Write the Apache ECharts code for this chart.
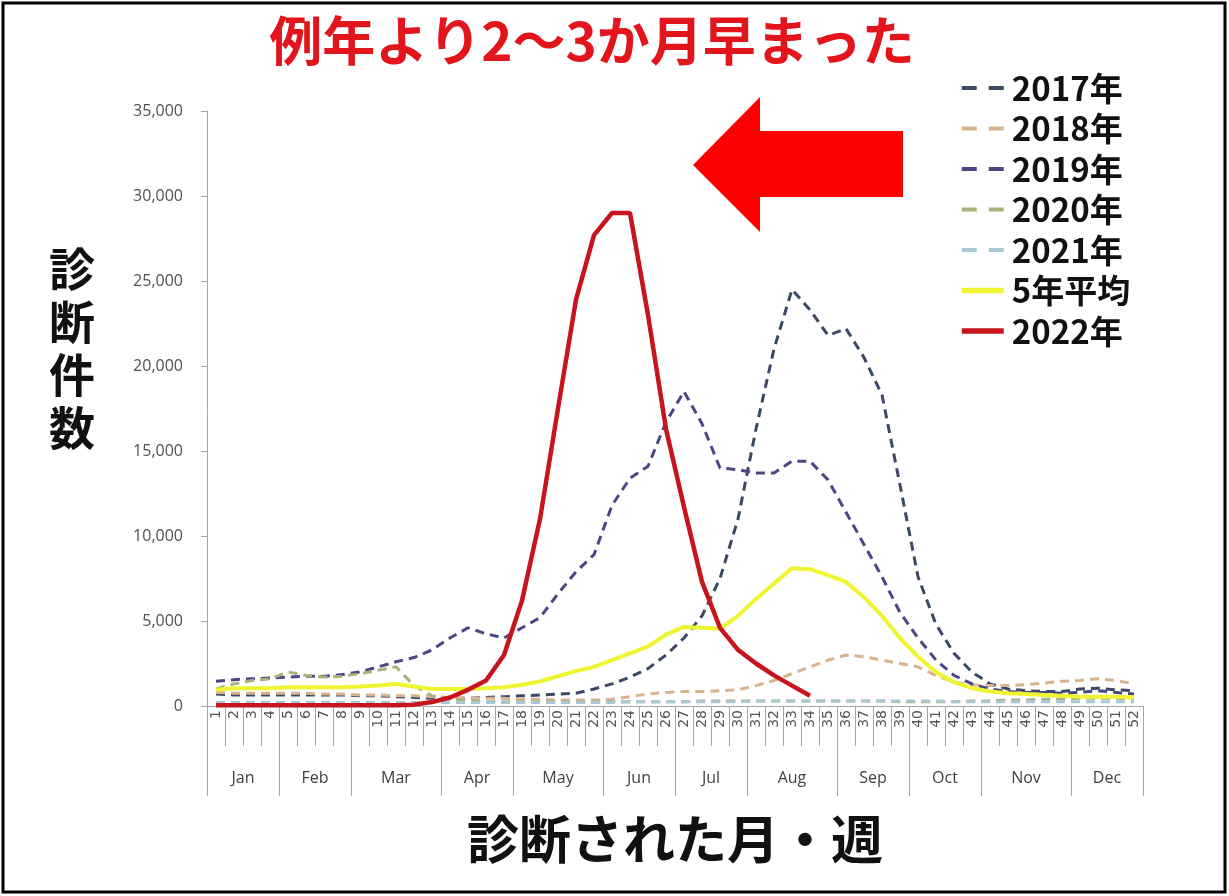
<!DOCTYPE html>
<html lang="ja">
<head>
<meta charset="utf-8">
<title>診断件数の推移</title>
<script src="https://cdn.jsdelivr.net/npm/echarts@6/dist/echarts.min.js"></script>
<style>
  html, body { margin: 0; padding: 0; background: #fff; }
  #chart { width: 1229px; height: 896px; }
</style>
</head>
<body>
<div id="chart"></div>
<script>
// Week numbers along the lower axis
const weeks = ['1','2','3','4','5','6','7','8','9','10','11','12','13','14','15','16','17','18','19','20',
  '21','22','23','24','25','26','27','28','29','30','31','32','33','34','35','36','37','38','39','40',
  '41','42','43','44','45','46','47','48','49','50','51','52'];

// Month groups: names and the week boundaries between them
const months = ['Jan','Feb','Mar','Apr','May','Jun','Jul','Aug','Sep','Oct','Nov','Dec'];
const monthEdges = [0, 4, 8, 13, 17, 22, 26, 30, 35, 39, 43, 48, 52];

// Weekly diagnosis counts
const y2017 = [700,650,650,650,650,650,650,650,600,600,550,500,450,450,450,500,550,600,650,700,
  750,1000,1300,1700,2200,3000,4000,5300,7500,11000,16300,21000,24500,23300,21800,22200,20500,18300,13000,7600,
  4800,3100,2000,1300,1000,900,850,850,1000,1050,950,900];
const y2018 = [800,750,750,750,750,750,700,700,650,650,600,600,550,500,450,450,450,400,400,350,
  350,350,400,550,700,800,850,850,900,950,1200,1500,1900,2300,2700,3000,2900,2700,2500,2300,
  1800,1400,1250,1200,1200,1250,1350,1450,1500,1600,1500,1300];
const y2019 = [1450,1550,1600,1650,1700,1750,1750,1850,2000,2300,2600,2850,3300,4000,4600,4250,4000,4600,5200,6600,
  7900,8900,11800,13400,14100,16700,18500,16600,14000,13900,13700,13700,14400,14400,13300,11400,9500,7600,5500,4000,
  2700,1800,1300,1000,850,800,800,750,800,900,800,700];
const y2020 = [1000,1300,1500,1600,2000,1800,1700,1750,1900,2100,2300,1200,600,400,300,250,250,250,250,250,
  250,250,250,250,250,250,250,300,300,300,300,300,300,300,300,300,300,300,250,250,
  250,250,300,300,350,350,400,400,450,450,450,400];
const y2021 = [200,200,200,200,200,200,200,200,200,200,200,200,200,200,200,200,200,200,200,200,
  200,200,200,250,250,250,250,250,250,250,300,300,300,300,300,300,300,300,300,300,
  300,250,250,250,250,250,250,250,250,250,250,250];
const yAvg = [950,1050,1050,1050,1100,1100,1100,1100,1150,1200,1300,1150,1000,1000,1000,1050,1100,1250,1450,1750,
  2050,2300,2700,3100,3500,4200,4650,4600,4550,5300,6300,7200,8100,8050,7700,7300,6400,5300,4000,2900,
  2000,1400,1050,850,750,700,650,600,550,550,550,500];
const y2022 = [50,50,50,50,50,50,50,50,50,50,50,80,230,500,950,1500,3000,6200,11000,17500,
  23900,27700,29000,29000,23000,16300,11700,7300,4600,3300,2500,1800,1200,600];

const seriesNames = ['2017年','2018年','2019年','2020年','2021年','5年平均','2022年'];
const seriesData = [y2017, y2018, y2019, y2020, y2021, yAvg, y2022];
const seriesColors = ['#3b4966','#d8b48e','#4a4784','#a9b27c','#a9c8d6','#eef530','#c8141c'];
const dashed = [true, true, true, true, true, false, false];

const monthCenters = months.map((m, i) => (monthEdges[i] + monthEdges[i + 1]) / 2);

const axisGray = '#a6a6a6';
const cjk = '"Noto Sans CJK JP", "Noto Sans", sans-serif';

const series = seriesNames.map((name, i) => ({
  name: name,
  type: 'line',
  data: seriesData[i],
  symbol: 'none',
  smooth: false,
  z: i + 2,
  lineStyle: dashed[i]
    ? { color: seriesColors[i], width: 3, type: [9, 6] }
    : { color: seriesColors[i], width: i === 6 ? 4.5 : 4 },
  itemStyle: { color: seriesColors[i] }
}));

// Legend keys show only the line stroke, no point marker
const legendData = seriesNames.map((name, i) => ({
  name: name,
  itemStyle: { opacity: 0 },
  lineStyle: dashed[i]
    ? { type: [15, 12], width: 4, color: seriesColors[i] }
    : { type: 'solid', width: 5.5, color: seriesColors[i] }
}));

const option = {
  animation: false,
  backgroundColor: '#ffffff',
  grid: { left: 207, right: 86, top: 111, bottom: 190, containLabel: false },
  legend: {
    orient: 'vertical',
    left: 954,
    top: 66.5,
    itemWidth: 42,
    itemHeight: 14,
    itemGap: 7.5,
    data: legendData,
    textStyle: { fontFamily: cjk, fontSize: 33, fontWeight: 'bold', color: '#111', lineHeight: 33, padding: [0, 0, 0, 3] }
  },
  xAxis: [
    {
      type: 'category',
      data: weeks,
      boundaryGap: true,
      position: 'bottom',
      axisLine: { show: true, onZero: false, lineStyle: { color: axisGray, width: 1 } },
      axisTick: { show: true, interval: 0, length: 40, lineStyle: { color: axisGray } },
      axisLabel: {
        interval: 0, rotate: 90, margin: 4,
        fontFamily: '"DejaVu Sans", sans-serif', fontSize: 14, color: '#555'
      },
      splitLine: { show: false }
    },
    {
      type: 'value',
      min: 0,
      max: 52,
      position: 'bottom',
      offset: 0,
      axisLine: { show: false, onZero: false },
      axisTick: { show: true, customValues: monthEdges, length: 90, lineStyle: { color: axisGray } },
      axisLabel: {
        customValues: monthCenters,
        margin: 64,
        fontFamily: '"Open Sans", sans-serif', fontSize: 16, color: '#404040',
        formatter: v => months[monthCenters.indexOf(v)]
      },
      splitLine: { show: false }
    }
  ],
  yAxis: {
    type: 'value',
    min: 0,
    max: 35000,
    interval: 5000,
    axisLine: { show: true, lineStyle: { color: axisGray, width: 1 } },
    axisTick: { show: true, length: 6, lineStyle: { color: axisGray } },
    axisLabel: {
      margin: 24,
      fontFamily: '"Open Sans", sans-serif', fontSize: 16, color: '#505050',
      formatter: v => v.toLocaleString('en-US')
    },
    splitLine: { show: false }
  },
  series: series,
  graphic: [
    {
      type: 'rect',
      shape: { x: 3, y: 3, width: 1222, height: 889 },
      style: { fill: 'none', stroke: '#000', lineWidth: 3 },
      z: 100
    },
    {
      type: 'text',
      x: 592, y: 41,
      style: {
        text: '例年より2～3か月早まった',
        fontFamily: cjk, fontSize: 53, fontWeight: 'bold',
        fill: '#e2141c', align: 'center', verticalAlign: 'middle'
      }
    },
    {
      type: 'polygon',
      shape: { points: [[693, 165], [760, 97], [760, 131], [903, 131], [903, 197], [760, 197], [760, 232]] },
      style: { fill: '#ff0000' }
    },
    {
      type: 'text',
      x: 72, y: 348,
      style: {
        text: '診\n断\n件\n数',
        fontFamily: cjk, fontSize: 46, fontWeight: 'bold', lineHeight: 53,
        fill: '#111', align: 'center', verticalAlign: 'middle'
      }
    },
    {
      type: 'text',
      x: 675, y: 839,
      style: {
        text: '診断された月・週',
        fontFamily: cjk, fontSize: 52, fontWeight: 'bold',
        fill: '#111', align: 'center', verticalAlign: 'middle'
      }
    }
  ]
};

const chart = echarts.init(document.getElementById('chart'), null, { renderer: 'canvas' });
chart.setOption(option);
</script>
</body>
</html>
